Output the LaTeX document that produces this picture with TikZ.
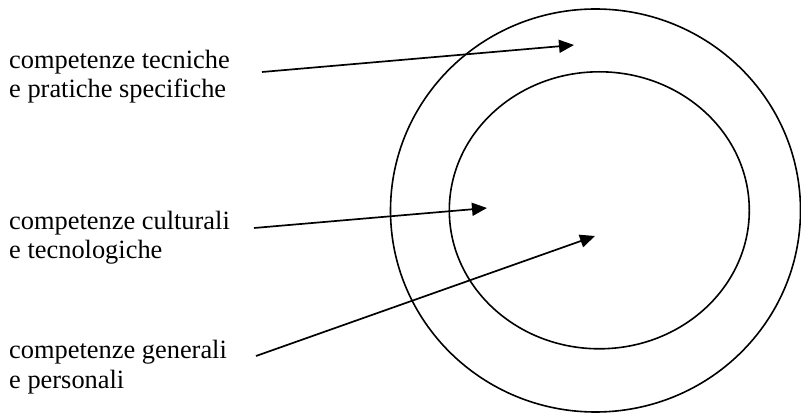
\documentclass[tikz,border=0pt]{standalone}
\usepackage{fontspec}
\setmainfont{Liberation Serif}
\usetikzlibrary{arrows.meta,shapes.geometric}

\begin{document}
\begin{tikzpicture}[
    x=1pt, y=-1pt,
    lbl/.style={anchor=base west, align=left, inner sep=0pt,
                font=\fontsize{26.4}{29.5}\selectfont},
    ring/.style={ellipse, draw=black, line width=1.6pt, inner sep=0pt},
    pt/.style={-{Triangle[length=15pt,width=13pt]}, line width=1.7pt}
]
\useasboundingbox (0,0) rectangle (801,414);

\node[ring, minimum width=410pt, minimum height=403pt] (outer) at (595.5,210.5) {};
\node[ring, minimum width=300pt, minimum height=277pt] (inner) at (599.3,210.3) {};

% anchor base = baseline of the last line
\node[lbl] (tecniche) at (9,98) {competenze tecniche\\e pratiche specifiche};
\node[lbl] (culturali) at (9,259) {competenze culturali\\e tecnologiche};
\node[lbl] (generali) at (9,388) {competenze generali\\e personali};

\coordinate (s1) at (262,72);
\coordinate (s2) at (254,228);
\coordinate (s3) at (256,356);
\coordinate (t1) at (574,45);
\coordinate (t2) at (487,208);
\coordinate (t3) at (595,236);

\draw[pt] (s1) -- (t1);
\draw[pt] (s2) -- (t2);
\draw[pt] (s3) -- (t3);
\end{tikzpicture}
\end{document}
